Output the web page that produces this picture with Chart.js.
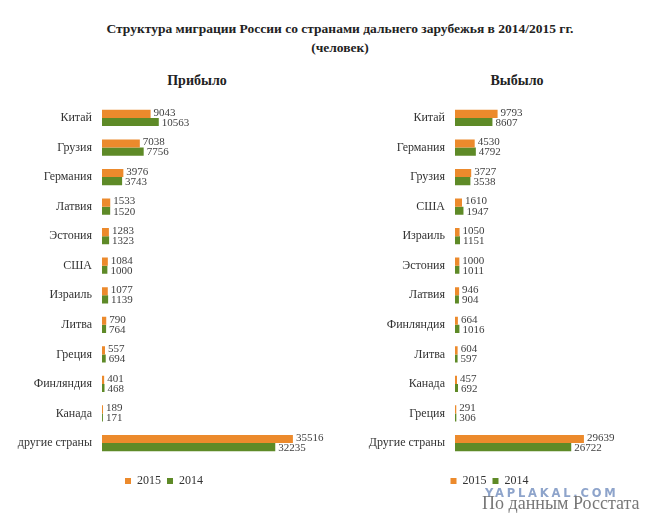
<!DOCTYPE html>
<html>
<head>
<meta charset="utf-8">
<script src="https://cdn.jsdelivr.net/npm/chart.js@4"></script>
<style>
  body { margin: 0; background: #fff; width: 648px; height: 522px; position: relative; overflow: hidden; font-family: "Liberation Serif", serif; }
  .t { position: absolute; color: #222; font-weight: bold; text-align: center; }
  #box1 { position: absolute; left: 0; top: 94px; width: 345px; height: 403px; }
  #box2 { position: absolute; left: 350px; top: 94px; width: 298px; height: 403px; }
  #mark1 { position: absolute; left: 485px; top: 486px; font-family: "DejaVu Sans", sans-serif; font-weight: bold; font-size: 11.5px; color: #8ea4cb; letter-spacing: 2.8px; }
  #mark2 { position: absolute; left: 482px; top: 493px; font-size: 18px; color: #777; }
</style>
</head>
<body>
<div class="t" style="left:0;width:680px;top:21px;font-size:13.5px;">Структура миграции России со странами дальнего зарубежья в 2014/2015 гг.</div>
<div class="t" style="left:0;width:680px;top:40px;font-size:13.5px;">(человек)</div>
<div class="t" style="left:147px;width:100px;top:73px;font-size:14px;">Прибыло</div>
<div class="t" style="left:467px;width:100px;top:73px;font-size:14px;">Выбыло</div>
<div id="box1"><canvas id="chartIn"></canvas></div>
<div id="box2"><canvas id="chartOut"></canvas></div>
<div id="mark1">YAPLAKAL.COM</div>
<div id="mark2">По данным Росстата</div>
<script>
// прибыло
var inCountries = ["Китай", "Грузия", "Германия", "Латвия", "Эстония", "США", "Израиль", "Литва", "Греция", "Финляндия", "Канада", "другие страны"];
var in2015 = [9043, 7038, 3976, 1533, 1283, 1084, 1077, 790, 557, 401, 189, 35516];
var in2014 = [10563, 7756, 3743, 1520, 1323, 1000, 1139, 764, 694, 468, 171, 32235];

// выбыло
var outCountries = ["Китай", "Германия", "Грузия", "США", "Израиль", "Эстония", "Латвия", "Финляндия", "Литва", "Канада", "Греция", "Другие страны"];
var out2015 = [9793, 4530, 3727, 1610, 1050, 1000, 946, 664, 604, 457, 291, 29639];
var out2014 = [8607, 4792, 3538, 1947, 1151, 1011, 904, 1016, 597, 692, 306, 26722];

var orange = "#ec8a2c";
var green = "#5e8a27";

// подписи значений справа от столбиков
var valueLabels = {
  id: "valueLabels",
  afterDatasetsDraw: function(chart) {
    var ctx = chart.ctx;
    ctx.save();
    ctx.font = "11px 'Liberation Serif', serif";
    ctx.fillStyle = "#404040";
    ctx.textBaseline = "middle";
    ctx.textAlign = "left";
    chart.data.datasets.forEach(function(ds, di) {
      var meta = chart.getDatasetMeta(di);
      meta.data.forEach(function(bar, i) {
        ctx.fillText(ds.data[i], bar.x + 3, bar.y + (di == 0 ? -1 : 1));
      });
    });
    ctx.restore();
  }
};

function makeChart(id, labels, d2015, d2014, xmax, padLeft, yWidth, padRight) {
  var ctx = document.getElementById(id).getContext("2d");
  return new Chart(ctx, {
    type: "bar",
    data: {
      labels: labels,
      datasets: [
        { label: "2015", data: d2015, backgroundColor: orange },
        { label: "2014", data: d2014, backgroundColor: green }
      ]
    },
    options: {
      indexAxis: "y",
      responsive: true,
      maintainAspectRatio: false,
      animation: false,
      layout: { padding: { top: 5, right: padRight, left: padLeft, bottom: 0 } },
      datasets: { bar: { barPercentage: 1, categoryPercentage: 0.55 } },
      scales: {
        x: { display: false, min: 0, max: xmax },
        y: {
          grid: { display: false },
          border: { display: false },
          ticks: { color: "#333", padding: 2, font: { family: "'Liberation Serif', serif", size: 12 } },
          afterFit: function(scale) { scale.width = yWidth; }
        }
      },
      plugins: {
        legend: {
          position: "bottom",
          // пустой заголовок легенды - отступ над легендой
          title: { display: true, text: " ", font: { size: 1 }, padding: { top: 10, bottom: 0 } },
          labels: { boxWidth: 6, boxHeight: 6, padding: 6, color: "#333", font: { family: "'Liberation Serif', serif", size: 12 } }
        },
        tooltip: { enabled: false }
      }
    },
    plugins: [valueLabels]
  });
}

makeChart("chartIn", inCountries, in2015, in2014, 40000, 11, 91, 28);
makeChart("chartOut", outCountries, out2015, out2014, 40000, 0, 105, 19);
</script>
</body>
</html>
